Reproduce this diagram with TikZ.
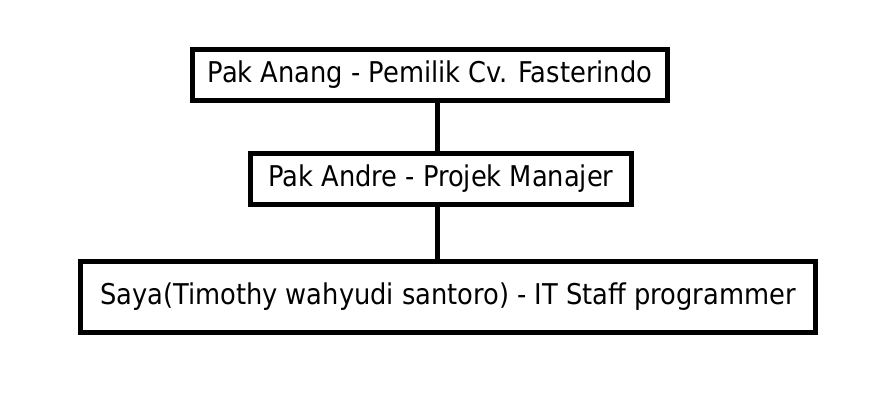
\documentclass[tikz,border=0pt]{standalone}
\usepackage{fontspec}
\setmainfont{DejaVu Sans Condensed}

\begin{document}
\begin{tikzpicture}[x=1pt, y=-1pt]
    \useasboundingbox[fill=white] (0,0) rectangle (886,408);
    \tikzset{
        jabatan/.style={draw, line width=5pt, inner sep=0pt, align=center, font=\fontsize{28.6}{32}\selectfont},
        garis/.style={line width=5pt}
    }

    % Draw boxes
    \node[jabatan, minimum width=475pt, minimum height=51pt] (anang) at (430, 75) {Pak Anang - Pemilik Cv. Fasterindo};
    \node[jabatan, minimum width=381pt, minimum height=51pt] (andre) at (441, 179) {Pak Andre - Projek Manajer};
    \node[jabatan, minimum width=735pt, minimum height=71pt] (saya) at (448, 297) {Saya(Timothy wahyudi santoro) - IT Staff programmer};

    \coordinate (tengah) at (437, 0);

    \draw[garis] (anang.south -| tengah) -- (andre.north -| tengah);
    \draw[garis] (andre.south -| tengah) -- (saya.north -| tengah);
\end{tikzpicture}
\end{document}
